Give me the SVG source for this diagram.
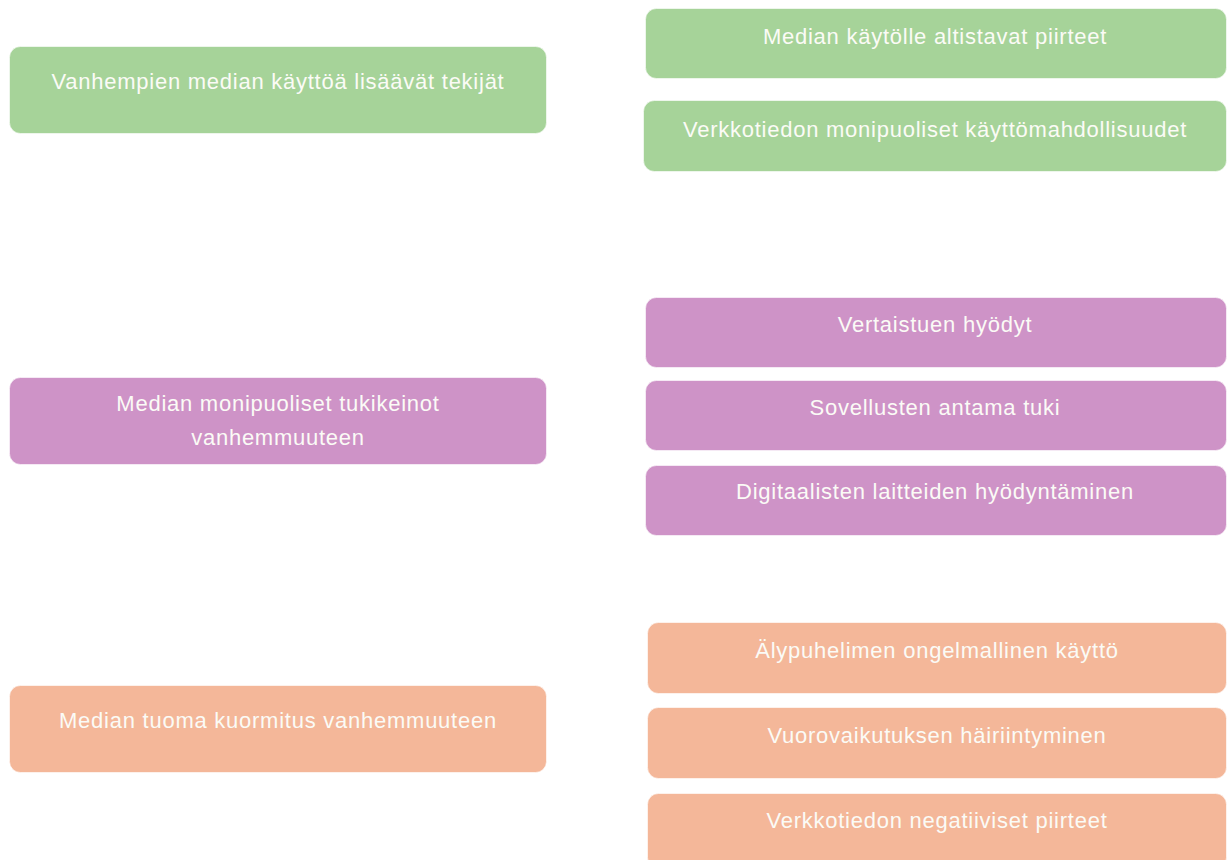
<svg xmlns="http://www.w3.org/2000/svg" width="1227" height="860" viewBox="0 0 1227 860">
<style>
.g{fill:#a6d399}
.p{fill:#ce93c7}
.o{fill:#f4b799}
rect{stroke:#ffffff;stroke-opacity:0.6;stroke-width:1}
text{font-family:"Liberation Sans",Arial,sans-serif;font-size:22px;letter-spacing:0.75px;fill:#fbfbf6;text-anchor:middle;dominant-baseline:central}
</style>
<rect width="1227" height="860" fill="#ffffff" stroke="none"/>
<g id="connectors"></g>
<g id="n1"><rect class="g" x="9.5" y="46.5" width="537" height="87" rx="11"/><text x="278" y="81">Vanhempien median käyttöä lisäävät tekijät</text></g>
<g id="n2"><rect class="p" x="9.5" y="377.5" width="537" height="87" rx="11"/><text x="278" y="403">Median monipuoliset tukikeinot</text><text x="278" y="437">vanhemmuuteen</text></g>
<g id="n3"><rect class="o" x="9.5" y="685.5" width="537" height="87" rx="11"/><text x="278" y="720">Median tuoma kuormitus vanhemmuuteen</text></g>
<g id="r1"><rect class="g" x="645.5" y="8.5" width="581" height="70" rx="11"/><text x="935" y="36">Median käytölle altistavat piirteet</text></g>
<g id="r2"><rect class="g" x="643.5" y="100.5" width="583" height="71" rx="11"/><text x="935" y="129">Verkkotiedon monipuoliset käyttömahdollisuudet</text></g>
<g id="r3"><rect class="p" x="645.5" y="297.5" width="581" height="70" rx="11"/><text x="935" y="324">Vertaistuen hyödyt</text></g>
<g id="r4"><rect class="p" x="645.5" y="380.5" width="581" height="70" rx="11"/><text x="935" y="407">Sovellusten antama tuki</text></g>
<g id="r5"><rect class="p" x="645.5" y="465.5" width="581" height="70" rx="11"/><text x="935" y="491">Digitaalisten laitteiden hyödyntäminen</text></g>
<g id="r6"><rect class="o" x="647.5" y="622.5" width="579" height="71" rx="11"/><text x="937" y="650">Älypuhelimen ongelmallinen käyttö</text></g>
<g id="r7"><rect class="o" x="647.5" y="707.5" width="579" height="71" rx="11"/><text x="937" y="735">Vuorovaikutuksen häiriintyminen</text></g>
<g id="r8"><rect class="o" x="647.5" y="793.5" width="579" height="75" rx="11"/><text x="937" y="820">Verkkotiedon negatiiviset piirteet</text></g>
</svg>
